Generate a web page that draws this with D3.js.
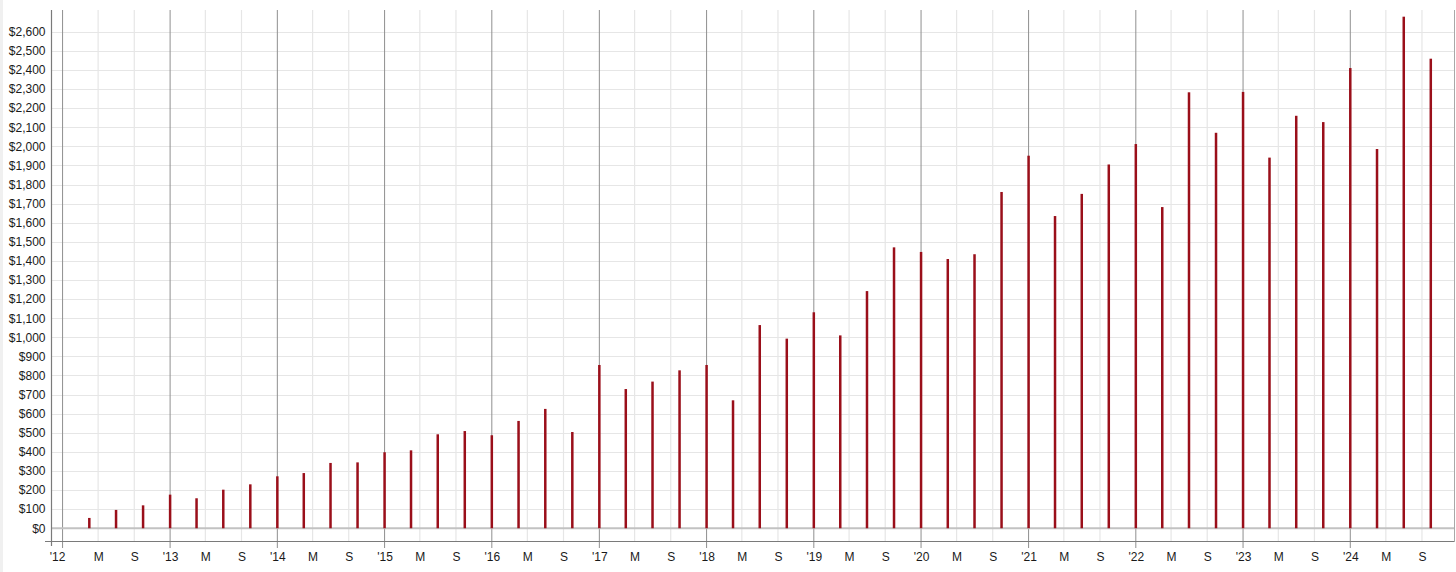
<!DOCTYPE html>
<html>
<head>
<meta charset="utf-8">
<script src="https://cdn.jsdelivr.net/npm/d3@7"></script>
<style>
  html, body { margin: 0; padding: 0; background: #fff; }
  svg { display: block; }
</style>
</head>
<body>
<svg id="chart" width="1456" height="572"></svg>
<script>
// ---- data ----
const periods = [
  "2012-04","2012-07","2012-10",
  "2013-01","2013-04","2013-07","2013-10",
  "2014-01","2014-04","2014-07","2014-10",
  "2015-01","2015-04","2015-07","2015-10",
  "2016-01","2016-04","2016-07","2016-10",
  "2017-01","2017-04","2017-07","2017-10",
  "2018-01","2018-04","2018-07","2018-10",
  "2019-01","2019-04","2019-07","2019-10",
  "2020-01","2020-04","2020-07","2020-10",
  "2021-01","2021-04","2021-07","2021-10",
  "2022-01","2022-04","2022-07","2022-10",
  "2023-01","2023-04","2023-07","2023-10",
  "2024-01","2024-04","2024-07","2024-10"
];
const values = [
  54, 96, 120,
  176, 157, 202, 230,
  272, 289, 342, 345,
  398, 408, 492, 509,
  487, 562, 625, 504,
  855, 729, 768, 827,
  855, 670, 1064, 993,
  1131, 1010, 1242, 1471,
  1447, 1410, 1435, 1761,
  1951, 1635, 1751, 1905,
  2012, 1682, 2283, 2071,
  2285, 1941, 2160, 2127,
  2410, 1986, 2679, 2459
];
const yTickValues = d3.range(0, 2601, 100);
const years = d3.range(2012, 2025);
const minorMonths = [4, 8]; // May, September (0-based months)
const minorLabels = {4: "M", 8: "S"};

(function () {
// ---- scales ----
const svg = d3.select("#chart");
const pLeft = 52, pRight = 1454, pTop = 10, pBottom = 542;
const x = d3.scaleTime()
  .domain([new Date(2011, 10, 26), new Date(2024, 11, 19)])
  .range([pLeft, pRight]);
const y = d3.scaleLinear().domain([-72, 2714]).range([pBottom, pTop]);

const parse = d3.timeParse("%Y-%m");
const data = periods.map((p, i) => ({date: parse(p), value: values[i]}));

const yearDates = years.map(yr => new Date(yr, 0, 1));
const minorDates = [];
years.forEach(yr => minorMonths.forEach(m => minorDates.push(new Date(yr, m, 1))));

// left page edge strip
svg.append("rect").attr("x", 0).attr("y", 0).attr("width", 3).attr("height", 572).attr("fill", "#f0f0f0");

// horizontal gridlines
svg.append("g").selectAll("line")
  .data(yTickValues.filter(v => v !== 0))
  .join("line")
  .attr("x1", pLeft).attr("x2", pRight)
  .attr("y1", d => Math.round(y(d)) + 0.5).attr("y2", d => Math.round(y(d)) + 0.5)
  .attr("stroke", "#e6e6e6").attr("stroke-width", 1.2);

// minor vertical gridlines (May, Sep)
svg.append("g").selectAll("line")
  .data(minorDates)
  .join("line")
  .attr("x1", d => x(d)).attr("x2", d => x(d))
  .attr("y1", pTop).attr("y2", pBottom)
  .attr("stroke", "#e6e6e6").attr("stroke-width", 1.2);

// year lines
svg.append("g").selectAll("line")
  .data(yearDates.filter(d => x(d) > pLeft + 2))
  .join("line")
  .attr("x1", d => x(d)).attr("x2", d => x(d))
  .attr("y1", pTop).attr("y2", pBottom + 6)
  .attr("stroke", "#8f8f8f").attr("stroke-width", 1);

// zero line
svg.append("line")
  .attr("x1", pLeft).attr("x2", pRight)
  .attr("y1", y(0)).attr("y2", y(0))
  .attr("stroke", "#c2c2c2").attr("stroke-width", 2);

// bars
svg.append("g").selectAll("rect")
  .data(data)
  .join("rect")
  .attr("x", d => x(d.date) - 1.25)
  .attr("width", 2.5)
  .attr("y", d => y(d.value))
  .attr("height", d => y(0) - y(d.value))
  .attr("fill", "#9a0f1a");

// axis lines and frame
svg.append("line").attr("x1", 51.5).attr("x2", 51.5).attr("y1", pTop).attr("y2", pBottom + 4)
  .attr("stroke", "#7a7a7a").attr("stroke-width", 1.2);
svg.append("line").attr("x1", 45).attr("x2", pRight).attr("y1", 541.5).attr("y2", 541.5)
  .attr("stroke", "#7a7a7a").attr("stroke-width", 1.2);
svg.append("line").attr("x1", 1454.5).attr("x2", 1454.5).attr("y1", pTop).attr("y2", pBottom)
  .attr("stroke", "#a8a8a8").attr("stroke-width", 1);

// y axis labels
const yAxis = d3.axisLeft(y)
  .tickValues(yTickValues)
  .tickFormat(d3.format("$,"))
  .tickSize(0)
  .tickPadding(6);
const gy = svg.append("g").attr("transform", "translate(51.5,0)").call(yAxis);
gy.select(".domain").remove();
gy.selectAll("text")
  .attr("font-family", "'Liberation Sans', Arial, sans-serif")
  .attr("font-size", 12).attr("fill", "#1a1a1a");

// x axis labels
const xTicks = yearDates.concat(minorDates).sort((a, b) => a - b);
const xAxis = d3.axisBottom(x)
  .tickValues(xTicks)
  .tickFormat(d => d.getMonth() === 0 ? "'" + String(d.getFullYear()).slice(2) : minorLabels[d.getMonth()])
  .tickSize(0)
  .tickPadding(11);
const gx = svg.append("g").attr("transform", "translate(0,541.5)").call(xAxis);
gx.select(".domain").remove();
gx.selectAll("text")
  .attr("font-family", "'Liberation Sans', Arial, sans-serif")
  .attr("font-size", 12).attr("fill", "#1a1a1a")
  .attr("dx", d => x(d) < pLeft + 15 ? -5.5 : 0);
})();
</script>
</body>
</html>
